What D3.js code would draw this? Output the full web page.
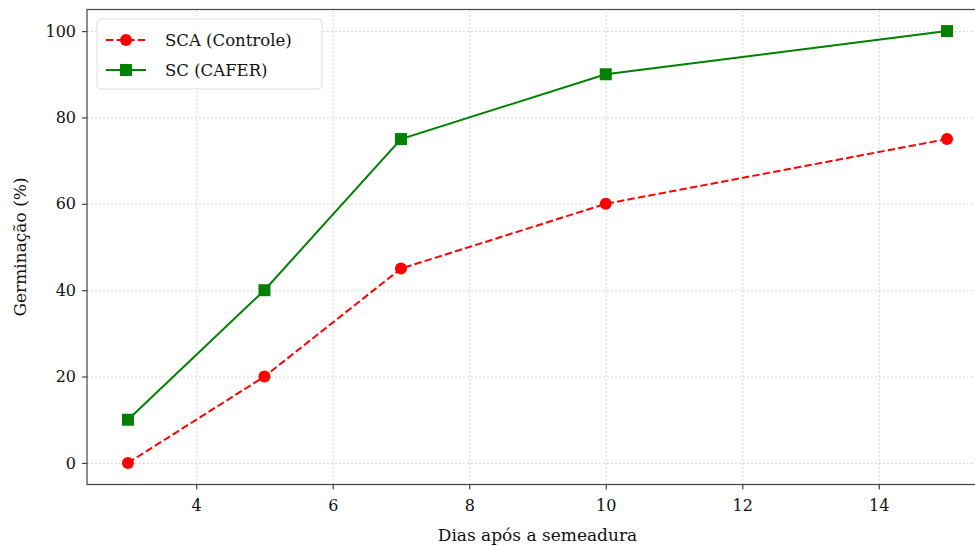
<!DOCTYPE html>
<html>
<head>
<meta charset="utf-8">
<script src="https://cdn.jsdelivr.net/npm/d3@7"></script>
<style>
  body { margin: 0; background: #fff; }
  svg text { font-family: "DejaVu Serif", serif !important; fill: #111; }
  .grid line { stroke: #ccc; stroke-dasharray: 1.5,2.5; stroke-width: 1; }
  .grid path { display: none; }
  .axis path, .axis line { stroke: #444; stroke-width: 1.2; }
</style>
</head>
<body>
<div id="chart"></div>
<script>
// values
var dias = [3, 5, 7, 10, 15];
var controle = [0, 20, 45, 60, 75];
var cafer = [10, 40, 75, 90, 100];
var xTicks = [4, 6, 8, 10, 12, 14];
var yTicks = [0, 20, 40, 60, 80, 100];
var seriesNames = ["SCA (Controle)", "SC (CAFER)"];

var W = 975, H = 546;
var margin = {top: 9.5, right: -13, bottom: 61.5, left: 87};
var width = W - margin.left - margin.right,
    height = H - margin.top - margin.bottom;

var svg = d3.select("#chart").append("svg")
    .attr("width", W)
    .attr("height", H)
    .attr("font-family", "DejaVu Serif");

var g = svg.append("g")
    .attr("transform", "translate(" + margin.left + "," + margin.top + ")");

var x = d3.scaleLinear().domain([2.4, 15.6]).range([0, width]);
var y = d3.scaleLinear().domain([-5, 105]).range([height, 0]);

// grid
g.append("g")
    .attr("class", "grid")
    .attr("transform", "translate(0," + height + ")")
    .call(d3.axisBottom(x).tickValues(xTicks).tickSize(-height).tickFormat(""));
g.append("g")
    .attr("class", "grid")
    .call(d3.axisLeft(y).tickValues(yTicks).tickSize(-width).tickFormat(""));

// frame
g.append("rect")
    .attr("width", width)
    .attr("height", height)
    .style("fill", "none")
    .style("stroke", "#444")
    .style("stroke-width", 1.2);

var xAxis = g.append("g")
    .attr("class", "axis")
    .attr("transform", "translate(0," + height + ")")
    .call(d3.axisBottom(x).tickValues(xTicks).tickSize(5).tickPadding(10).tickSizeOuter(0));
var yAxis = g.append("g")
    .attr("class", "axis")
    .call(d3.axisLeft(y).tickValues(yTicks).tickSize(5).tickPadding(6).tickSizeOuter(0));
xAxis.select(".domain").remove();
yAxis.select(".domain").remove();
svg.selectAll(".axis").attr("font-family", "DejaVu Serif").attr("font-size", 16);
svg.selectAll(".axis text").style("fill", "#111");

// axis titles
svg.append("text")
    .attr("x", margin.left + width / 2)
    .attr("y", 541)
    .style("text-anchor", "middle")
    .style("font-size", "17px")
    .text("Dias após a semeadura");
svg.append("text")
    .attr("transform", "translate(26," + (margin.top + height / 2) + ") rotate(-90)")
    .style("text-anchor", "middle")
    .style("font-size", "17px")
    .text("Germinação (%)");

var line = d3.line()
    .x(function(d) { return x(d[0]); })
    .y(function(d) { return y(d[1]); });

// controle, red dashed
g.append("path")
    .datum(d3.zip(dias, controle))
    .attr("d", line)
    .style("fill", "none")
    .style("stroke", "red")
    .style("stroke-width", 2)
    .style("stroke-dasharray", "7.4,3.2");
g.selectAll(".dot")
    .data(d3.zip(dias, controle))
  .enter().append("circle")
    .attr("class", "dot")
    .attr("cx", function(d) { return x(d[0]); })
    .attr("cy", function(d) { return y(d[1]); })
    .attr("r", 6)
    .style("fill", "red");

// cafer, green solid
g.append("path")
    .datum(d3.zip(dias, cafer))
    .attr("d", line)
    .style("fill", "none")
    .style("stroke", "green")
    .style("stroke-width", 2);
g.selectAll(".sq")
    .data(d3.zip(dias, cafer))
  .enter().append("rect")
    .attr("class", "sq")
    .attr("x", function(d) { return x(d[0]) - 6; })
    .attr("y", function(d) { return y(d[1]) - 6; })
    .attr("width", 12)
    .attr("height", 12)
    .style("fill", "green");

// legend
var legend = svg.append("g").attr("transform", "translate(97,19)");
legend.append("rect")
    .attr("width", 225)
    .attr("height", 70)
    .attr("rx", 4)
    .style("fill", "#fff")
    .style("fill-opacity", 0.8)
    .style("stroke", "#ddd");

var row1 = legend.append("g").attr("transform", "translate(0,21)");
row1.append("line")
    .attr("x1", 9).attr("x2", 49)
    .style("stroke", "red").style("stroke-width", 2)
    .style("stroke-dasharray", "7.4,3.2");
row1.append("circle").attr("cx", 29).attr("r", 6).style("fill", "red");
row1.append("text").attr("x", 68).attr("dy", "0.35em")
    .style("font-size", "16.5px").text(seriesNames[0]);

var row2 = legend.append("g").attr("transform", "translate(0,51)");
row2.append("line")
    .attr("x1", 9).attr("x2", 49)
    .style("stroke", "green").style("stroke-width", 2);
row2.append("rect").attr("x", 23).attr("y", -6).attr("width", 12).attr("height", 12).style("fill", "green");
row2.append("text").attr("x", 68).attr("dy", "0.35em")
    .style("font-size", "16.5px").text(seriesNames[1]);
</script>
</body>
</html>
